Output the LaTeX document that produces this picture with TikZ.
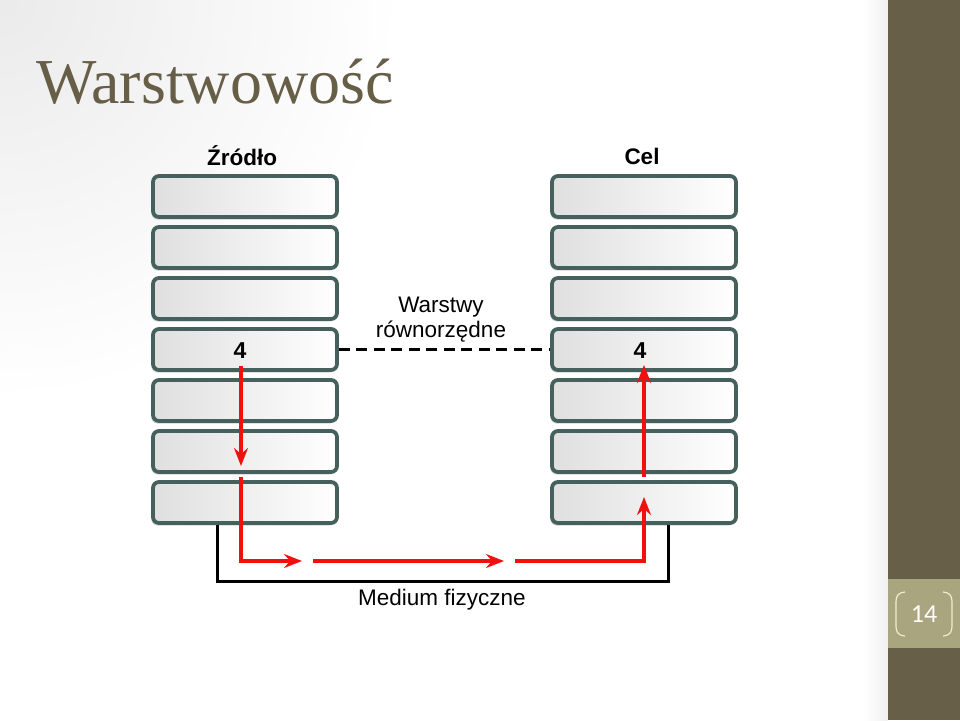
\documentclass[tikz,border=0pt]{standalone}
\usepackage{fontspec}
\setmainfont{Liberation Serif}
\newfontfamily\diagfont{Liberation Sans}
\newfontfamily\numfont{Carlito}
\usetikzlibrary{arrows.meta,shadows}
\definecolor{titlebrown}{HTML}{675E47}
\definecolor{barbrown}{HTML}{675F47}
\definecolor{bandolive}{HTML}{A9A57E}
\definecolor{bracketcream}{HTML}{F3ECC8}
\definecolor{boxedge}{HTML}{46605D}
\definecolor{arrowred}{HTML}{F01010}
\tikzset{
  layerbox/.style={draw=boxedge, line width=3.8pt, rounded corners=6pt,
    minimum width=184pt, minimum height=41pt, inner sep=0pt,
    left color=gray!25, right color=white,
    drop shadow={shadow xshift=-1.5pt, shadow yshift=-2.5pt, fill=gray, opacity=0.35}},
  headlabel/.style={font=\diagfont\bfseries\fontsize{22.5}{24}\selectfont, inner sep=0pt},
  numlabel/.style={font=\diagfont\bfseries\fontsize{23}{24}\selectfont, inner sep=0pt},
  plainlabel/.style={font=\diagfont\fontsize{22.5}{25}\selectfont, inner sep=0pt, align=center},
  redflow/.style={draw=arrowred, line width=3.2pt},
  redtip/.style={-{Stealth[length=18pt,width=14pt,inset=6pt]}},
  medium/.style={draw=black, line width=3pt},
  peer/.style={draw=black, line width=3pt, dash pattern=on 11pt off 6.5pt}
}
\begin{document}
\begin{tikzpicture}[x=1pt,y=-1pt]
\useasboundingbox (0,0) rectangle (960,720);
% background
\fill[white] (0,0) rectangle (888,720);
\begin{scope}
\clip (0,0) rectangle (888,720);
\shade[inner color=gray!16, outer color=white] (0,0) circle[radius=400];
\end{scope}
\shade[left color=white, right color=gray!12] (864,0) rectangle (888,720);
% side bar
\fill[barbrown] (888,0) rectangle (960,720);
\fill[bandolive] (888,579) rectangle (960,648);
\draw[bracketcream, line width=1.2pt] (905,592) .. controls (897,593) and (896,596) .. (896,604) -- (896,624) .. controls (896,632) and (897,635) .. (905,636);
\draw[bracketcream, line width=1.2pt] (943,592) .. controls (951,593) and (952,596) .. (952,604) -- (952,624) .. controls (952,632) and (951,635) .. (943,636);
\node[font=\numfont\fontsize{26}{28}\selectfont, text=white!92!bracketcream, inner sep=0pt] (pnum) at (924,614) {14};
% title
\node[anchor=base west, inner sep=0pt, text=titlebrown, font=\fontsize{64}{66}\selectfont] (title) at (36,103) {Warstwowość};
% headers
\node[headlabel] (src) at (242,156) {Źródło};
\node[headlabel] (dst) at (642,156) {Cel};
% stacks
\foreach \k in {1,...,7}{
  \node[layerbox] (L\k) at (245,{196.5+51*(\k-1)}) {};
  \node[layerbox] (R\k) at (644,{196.5+51*(\k-1)}) {};
}
\node[numlabel] (n4L) at (240,351) {4};
\node[numlabel] (n4R) at (640,351) {4};
% peer layers
\node[plainlabel] (peerlbl) at (441,320) {Warstwy\\równorzędne};
\draw[peer] (L4.east) -- (R4.west);
% physical medium
\coordinate (mL) at (217,581);
\coordinate (mR) at (668,581);
\draw[medium] (L7.south -| mL) -- (mL) -- (mR) -- (R7.south -| mR);
\node[plainlabel] (medlbl) at (442,600) {Medium fizyczne};
% red flow
\coordinate (a1) at (241,366);
\coordinate (a2) at (241,466);
\coordinate (a3) at (241,477);
\coordinate (a4) at (241,561);
\coordinate (a5) at (302,561);
\coordinate (a6) at (313,561);
\coordinate (a7) at (504,561);
\coordinate (a8) at (515,561);
\coordinate (a9) at (644,561);
\coordinate (a10) at (644,497);
\coordinate (a11) at (644,477);
\coordinate (a12) at (644,365);
\draw[redflow, redtip] (a1) -- (a2);
\draw[redflow, redtip] (a3) -- (a4) -- (a5);
\draw[redflow, redtip] (a6) -- (a7);
\draw[redflow, redtip] (a8) -- (a9) -- (a10);
\draw[redflow, redtip] (a11) -- (a12);
\end{tikzpicture}
\end{document}
